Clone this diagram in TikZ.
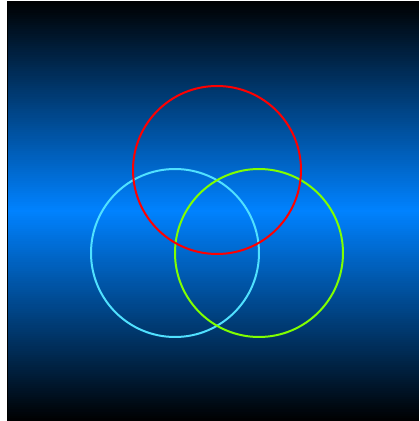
\documentclass[tikz,border=0pt]{standalone}
\usetikzlibrary{calc}
\definecolor{skyblue}{RGB}{0,130,255}
\definecolor{ringcyan}{RGB}{80,225,255}
\definecolor{ringgreen}{RGB}{128,255,0}
\definecolor{ringred}{RGB}{255,0,0}
\begin{document}
\begin{tikzpicture}[x=1pt, y=1pt, line width=2pt]
  \useasboundingbox (0, 0) rectangle (420, 421);
  \coordinate (BL) at (7, 0);
  \coordinate (TR) at (419, 420);

  % background: black - blue - black, in stripes
  \foreach \i in {0,...,209} {
    \pgfmathtruncatemacro{\pct}{round((\i+0.5)/2.1)}
    \fill[skyblue!\pct!black] (7, \i) rectangle (419, \i+1.2);
    \fill[skyblue!\pct!black] (7, 420-\i) rectangle (419, 418.8-\i);
  }
  \draw[black, line width=1pt] ($(BL)+(0.5,0)$) -- ($(BL)+(0.5,420)$);

  \coordinate (R) at (217, 251);
  \coordinate (C) at (175, 168);
  \coordinate (G) at (259, 168);

  \draw[ringcyan]  (C) circle[radius=84];
  \draw[ringgreen] (G) circle[radius=84];
  \draw[ringred]   (R) circle[radius=84];
\end{tikzpicture}
\end{document}
